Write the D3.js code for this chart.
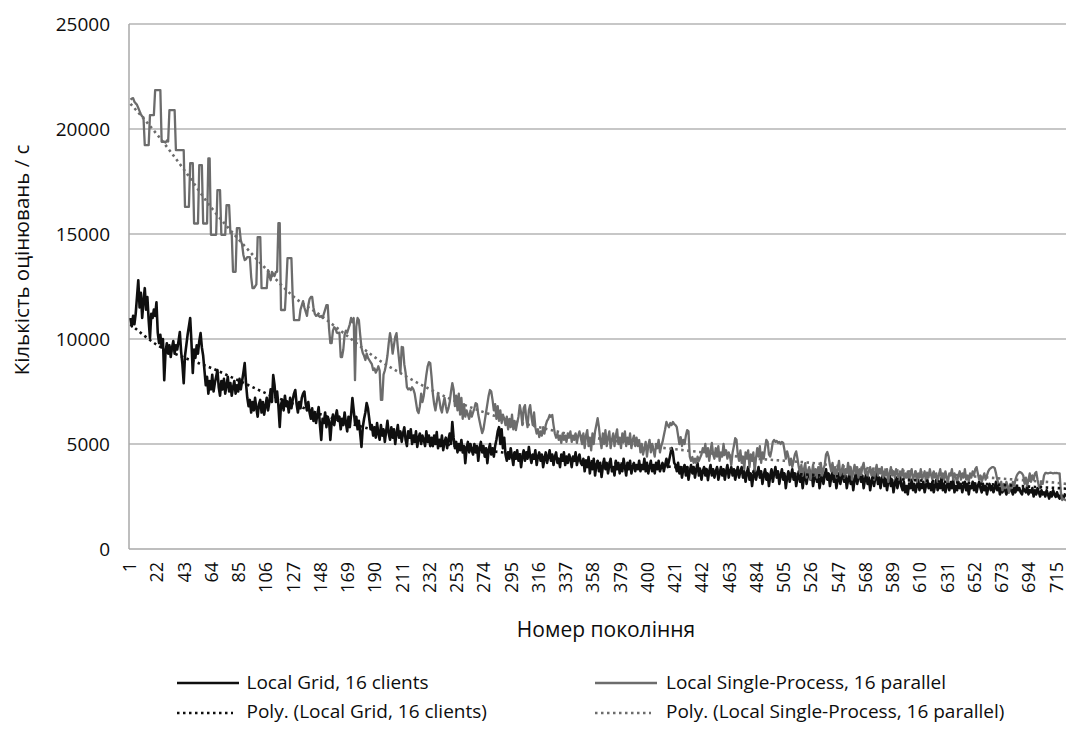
<!DOCTYPE html>
<html>
<head>
<meta charset="utf-8"/>
<title>Кількість оцінювань / с</title>
<script src="https://d3js.org/d3.v7.min.js"></script>
<style>
body{margin:0;background:#fff;}
text{font-family:"Open Sans",sans-serif;fill:#0d0d0d;}
</style>
</head>
<body>
<div id="chart"></div>
<script>
// y-axis ticks and x tick labels (generation numbers)
var yTicks = [0, 5000, 10000, 15000, 20000, 25000];
var tickGens = [1,22,43,64,85,106,127,148,169,190,211,232,253,274,295,316,337,358,379,400,421,442,463,484,505,526,547,568,589,610,631,652,673,694,715];

// Local Single-Process, 16 parallel (one value per generation, from 1)
var singleValues = [
21400,21450,21470,21300,21220,21150,21000,20850,20700,20600,20550,19230,19230,19230,19230,20660,20660,20660,20660,21850,
21850,21850,21850,21850,19390,19390,19400,19350,19450,19400,20900,20900,20900,20900,20900,18990,18990,18990,18990,18990,
18990,18990,16290,16290,16290,16290,18370,18370,18370,15500,15500,15500,15500,18280,18280,18280,15500,15500,15500,15500,
18600,18600,14960,14960,14960,14960,14960,17090,17090,17090,14960,14960,14960,14960,16370,16370,16370,15040,15040,13200,
13200,13200,15280,15280,15280,14700,14500,14000,13760,13800,13900,13900,13900,12950,12420,12420,12500,12600,14850,14850,
14850,12420,12420,12420,12420,12420,13280,13000,12800,13200,13100,13000,13200,13200,15520,15520,11380,11380,11380,11380,
12500,13850,13850,13850,13850,12000,10900,10900,10900,10900,10900,11400,11600,11800,11500,11300,11100,11600,11900,12000,
12000,11500,11200,11100,11150,11100,11050,11100,11000,11200,11400,11610,11610,10500,9800,9800,10400,10560,10500,10300,
10280,10300,9140,9140,9500,10200,10400,10300,10500,10700,11000,10800,11000,8040,10600,11000,10900,10200,9600,9330,
9200,9000,9300,9100,9000,8900,8800,8520,8600,8400,8520,8700,8500,7100,7100,8300,8500,8800,9200,9800,
10280,9900,9300,9700,10100,10280,9600,9000,8400,9620,9600,8800,8400,7710,7600,7650,7570,7700,7600,7400,
7000,6600,6470,6800,7400,7000,7300,7800,8300,8700,8900,8850,8200,7400,6900,6600,7000,7400,7100,6700,
6500,6900,7200,6800,6500,6700,7000,7500,7900,7600,6800,7300,6600,7400,6400,7200,6200,6900,6300,6600,
6400,6200,6600,6300,6500,6700,6950,6900,6400,6100,5800,5520,5700,6100,6500,6900,7300,7570,7500,7100,
6600,6900,6200,6800,6100,6600,6000,6400,6200,5900,6300,5700,6200,5800,6400,5700,6100,5660,6000,6300,
6850,6500,5900,6700,6850,6200,5800,6600,6850,6300,5900,6500,5800,5500,5700,5330,5600,5400,5800,5500,
5900,6100,6200,6380,6300,6380,5900,5500,5300,5500,5200,5400,5050,5500,5200,5400,5100,5500,5300,5600,
5100,5400,5200,5500,5050,5400,5600,5300,5000,5500,4800,5400,5660,4900,5300,4700,5500,5000,5600,5900,
6230,5800,5200,4800,5500,5000,5660,4900,5300,5600,4800,5200,5500,4900,5400,5700,5000,5300,4800,5500,
5100,5600,4900,5300,5000,5500,4800,5200,5400,4900,5300,4900,5190,4600,5000,4500,4800,5100,4400,4900,
5200,4600,5000,4700,4400,5000,4800,5200,4600,4900,5100,5400,5700,6050,5900,5800,6000,5900,6050,5950,
5900,5800,5400,5000,5330,4900,5200,5000,5400,5660,5600,4400,4200,4380,4100,4300,4090,4400,4200,4350,
4500,4800,4600,5000,4400,4800,4200,4700,5050,4500,4300,4800,4400,4900,4200,4600,4400,5000,4500,4700,
4300,4600,4400,4000,4600,4900,5280,5200,4500,4200,4700,4100,4400,3800,4600,4300,4700,3900,4500,4200,
4600,3700,4300,4800,4400,4900,4100,4600,4300,4800,5190,5100,4500,4400,4700,5100,5190,5100,5150,5050,
5100,5000,5100,5050,4700,4300,4650,4400,4000,4300,3900,4200,4500,4650,4300,3900,3600,4000,3500,3800,
4090,3400,3700,3900,3300,3600,4000,3500,3800,3400,3900,3600,4100,3500,3800,4000,4500,4620,4400,4000,
3700,4100,3600,3900,3400,3800,4200,3500,3700,4000,3400,3800,3600,4100,3500,3900,3300,3700,4000,3600,
3900,3400,3800,3500,3900,4100,3600,3800,3400,3700,3900,3500,3800,3300,3700,4000,3500,3800,3600,3900,
3400,3700,3500,3800,3200,3600,3900,3500,3700,3400,3800,3600,3300,3700,3500,3800,3300,3600,3400,3700,
3200,3600,3800,3300,3500,3700,3200,3600,3400,3800,3300,3500,3700,3200,3600,3400,3800,3500,3300,3700,
3400,3600,3200,3500,3800,3400,3600,3300,3700,3400,3200,3600,3500,3800,3300,3600,3400,3200,3500,3700,
3300,3600,3400,3800,3300,3500,3200,3600,3400,3700,3500,3800,3900,3600,3300,3500,3200,3400,3600,3300,
3500,3700,3800,3850,3900,3900,3850,3600,3300,3100,3000,3200,2800,3100,2900,3200,3000,2700,3100,2900,
3200,3000,3300,3500,3600,3670,3650,3600,3500,3100,3400,3000,3300,3600,3200,3500,3300,3600,3670,3300,
3000,2900,3200,3100,3500,3620,3620,3600,3620,3640,3620,3600,3620,3610,3620,3600,3600,2700,2330,2400,
2350,2300];

// Local Grid, 16 clients
var gridValues = [
11000,10600,11100,10700,11200,12000,12800,11500,12200,11000,11800,12420,11400,12000,10900,10040,11200,11000,11400,11100,
11750,10300,9800,10200,9600,10000,8040,9400,9800,9300,9700,9140,9600,9900,9300,9700,9500,9900,10330,9400,
8800,7900,9200,9700,10200,10600,11000,9800,8380,9500,9100,9700,9300,9900,10280,9600,9200,8500,7800,8200,
7400,8000,7600,8300,7500,7900,8200,8520,7700,7300,8000,7600,8100,7400,7800,8200,7500,7900,7300,7700,
8000,7400,7800,7500,8100,7600,8000,8400,8850,7900,7200,6800,7100,6500,7000,6600,7200,6700,6300,6900,
7100,6500,7000,6400,6800,7200,6600,7000,7600,7000,8280,7800,7000,7500,6800,5810,6900,7100,6600,7300,
6800,7000,6500,7200,6700,7100,7400,7570,6900,6500,7000,6700,7200,7400,7500,6900,6600,7000,6500,6200,
6700,6100,6500,6000,6400,6760,5900,5190,6200,6000,6500,5800,6300,6100,5190,6000,6400,5900,6300,6600,
6100,6300,5700,6200,5900,6500,6000,5600,6300,5800,6400,7190,6600,6000,6300,5700,6100,5500,4860,5800,
6200,6500,6950,6700,6200,5700,5900,5400,5800,5300,6000,5500,5200,5900,5400,5700,5100,5600,6100,5500,
5200,5800,5300,5700,5000,5500,5900,5300,5600,5100,5500,5800,5200,4900,5600,5300,5700,5000,5400,5100,
5600,4860,5300,5500,5000,5400,5200,4900,5600,5100,5400,4900,5300,4900,5400,5000,5570,4800,5200,4900,
5400,4710,5100,5300,4800,5200,5500,5000,6050,5300,4800,5100,4600,5000,4700,5190,4600,4900,4090,4800,
5100,4600,5000,4700,4500,5000,4600,4900,4200,4800,5100,4600,4900,4400,4800,4090,4700,5000,4500,4800,
4400,4900,5200,5600,5800,5000,5700,4800,5300,4500,4200,4600,4300,4800,4400,4000,4600,4300,4700,4200,
4500,3900,4400,4700,4200,4600,4300,4860,4400,4100,4500,4300,4700,4000,4400,4600,4200,4500,3900,4300,
4600,4100,4400,4700,4200,4500,4000,4400,4600,4100,4300,3900,4500,4200,4600,4000,4400,4100,4500,4300,
3900,4400,4200,4600,4000,4300,4500,4100,4000,4300,3700,4200,3900,4380,3600,4100,3800,4300,3500,4000,
4200,3700,4100,3430,3900,4300,3800,4100,3600,4000,4300,3700,3900,3500,4200,3800,4100,3600,4000,3700,
4300,3900,3500,4100,3800,4200,3600,3900,4100,3700,4000,3800,4200,3700,4000,3800,4300,3700,4100,3600,
3900,4200,3700,4000,3600,4100,3800,4200,3700,3900,4100,3700,4000,4300,3900,4200,4500,4810,4600,4100,
4000,3700,4100,3600,3900,3400,3800,4000,3500,3900,3300,3700,4000,3600,3900,3400,3800,4090,3500,3800,
3300,3700,3900,3500,3800,3280,3700,4000,3500,3800,3400,3700,3900,3300,3600,3900,3500,3800,3300,3700,
4000,3400,3700,3900,3500,3800,3300,3600,3900,3400,3700,3900,3400,3700,3200,3600,3900,3300,3600,3000,
3500,3800,3300,3600,3900,3400,3700,3100,3500,3800,3300,3600,3000,3500,3800,3200,3600,3900,3400,3700,
3100,3500,3800,3300,3600,2900,3400,3700,3200,3500,3800,3300,3600,3000,3400,3700,3200,3500,2900,3400,
3700,3100,3500,3800,3300,3600,3000,3400,3700,3200,3500,2900,3300,3600,3100,3500,3800,3300,3600,3000,
3400,3700,3200,3500,2900,3300,3600,3100,3400,3700,3200,3500,2900,3300,3600,3100,3400,2800,3300,3600,
3100,3400,3700,3200,3500,2900,3300,3600,3100,3400,2800,3200,3500,3000,3400,3700,3100,3400,2900,3300,
3600,3000,3300,2800,3200,3500,3000,3300,2700,3100,3400,2900,3200,3500,3000,2800,3200,2700,3000,2600,
3100,2900,3300,2800,3100,2700,3000,3300,2800,3100,2900,3200,2700,3000,3300,2900,3100,2800,3200,2700,
3000,3300,2800,3100,2900,3380,2800,3100,2700,3000,3200,2800,3100,2900,3300,2700,3000,2800,3200,2900,
3100,2700,3000,3200,2800,3100,2600,3000,2900,3200,2800,3100,2700,3000,3200,2900,2700,3100,2800,3000,
2600,2900,3100,2800,3000,2700,2900,3200,2800,3000,2600,2900,2700,3000,2800,2600,2900,2700,3000,2800,
2600,2900,2700,3000,2800,2900,2700,2600,2900,2800,2700,3000,2600,2800,2700,2900,2500,2800,2600,2900,
2700,2500,2800,2600,2700,2500,2800,2600,2400,2700,2500,2800,2600,2480,2700,2500,2400,2600,2500,2400,
2600,2500];

// polynomial trendlines, read at the tick generations
var trendGens = [1,22,43,64,85,106,127,148,169,190,211,232,253,274,295,316,337,358,379,400,421,442,463,484,505,526,547,568,589,610,631,652,673,694,715,722];
var gridTrend = [10700,9700,9100,8600,8000,7400,6900,6400,6000,5650,5350,5100,4900,4700,4550,4400,4280,4170,4070,3980,3900,3820,3740,3670,3600,3530,3460,3400,3330,3260,3190,3120,3050,2970,2900,2870];
var singleTrend = [21200,19700,18000,16200,14700,13300,12000,11100,10100,9100,8300,7600,7000,6500,6100,5800,5500,5300,5100,4900,4750,4600,4450,4300,4200,4100,3950,3850,3750,3650,3550,3450,3350,3250,3150,3100];

var width = 1066, height = 734;
var plotLeft = 129, plotRight = 1066, plotTop = 24, plotBottom = 549;
var gridColor = '#0f0f0f', singleColor = '#6c6c6c';

var svg = d3.select('#chart').append('svg')
	.attr('width', width)
	.attr('height', height);

var x = d3.scaleLinear().domain([1, 715]).range([130.5, 1057]);
var y = d3.scaleLinear().domain([0, 25000]).range([plotBottom, plotTop]);

// horizontal gridlines
svg.append('g').selectAll('line')
	.data(yTicks.filter(function(d){ return d > 0; }))
	.enter().append('line')
	.attr('x1', plotLeft).attr('x2', plotRight)
	.attr('y1', function(d){ return y(d); })
	.attr('y2', function(d){ return y(d); })
	.attr('stroke', '#b4b4b4')
	.attr('stroke-width', 1.5);

// axes
var yAxis = d3.axisLeft(y).tickValues(yTicks).tickFormat(d3.format('d')).tickSize(0).tickPadding(19);
svg.append('g')
	.attr('transform', 'translate(' + plotLeft + ',0)')
	.call(yAxis)
	.call(function(g){ g.select('.domain').remove(); })
	.selectAll('text')
	.style('font-size', '19px')
	.style('font-family', '"Open Sans", sans-serif')
	.attr('fill', '#0d0d0d');

var xAxis = d3.axisBottom(x).tickValues(tickGens).tickFormat(d3.format('d')).tickSize(0);
svg.append('g')
	.attr('transform', 'translate(0,' + plotBottom + ')')
	.call(xAxis)
	.call(function(g){ g.select('.domain').remove(); })
	.selectAll('text')
	.attr('transform', 'rotate(-90)')
	.attr('text-anchor', 'end')
	.attr('x', -13)
	.attr('y', 0)
	.attr('dy', '0.28em')
	.style('font-size', '18px')
	.style('font-family', '"Open Sans", sans-serif')
	.attr('fill', '#0d0d0d');

svg.append('line')
	.attr('x1', plotLeft).attr('x2', plotLeft).attr('y1', plotTop).attr('y2', plotBottom)
	.attr('stroke', '#a8a8a8').attr('stroke-width', 1.5);
svg.append('line')
	.attr('x1', plotLeft).attr('x2', plotRight).attr('y1', plotBottom).attr('y2', plotBottom)
	.attr('stroke', '#a8a8a8').attr('stroke-width', 1.5);

// plot clip
svg.append('clipPath').attr('id', 'plot')
	.append('rect').attr('x', plotLeft).attr('y', 0).attr('width', plotRight - plotLeft).attr('height', plotBottom);

var plot = svg.append('g').attr('clip-path', 'url(#plot)');

var seriesLine = d3.line()
	.x(function(d, i){ return x(i + 1); })
	.y(function(d){ return y(d); });

plot.append('path').datum(gridValues)
	.attr('d', seriesLine)
	.attr('fill', 'none')
	.attr('stroke', gridColor)
	.attr('stroke-width', 2.6)
	.attr('stroke-linejoin', 'round');

plot.append('path').datum(singleValues)
	.attr('d', seriesLine)
	.attr('fill', 'none')
	.attr('stroke', singleColor)
	.attr('stroke-width', 2.3)
	.attr('stroke-linejoin', 'round');

var trendLine = d3.line()
	.curve(d3.curveMonotoneX)
	.x(function(d, i){ return x(trendGens[i]); })
	.y(function(d){ return y(d); });

plot.append('path').datum(gridTrend)
	.attr('d', trendLine)
	.attr('fill', 'none')
	.attr('stroke', gridColor)
	.attr('stroke-width', 2.6)
	.attr('stroke-dasharray', '2.5 3.5');

plot.append('path').datum(singleTrend)
	.attr('d', trendLine)
	.attr('fill', 'none')
	.attr('stroke', singleColor)
	.attr('stroke-width', 2.6)
	.attr('stroke-dasharray', '2.5 3.5');

// axis titles
svg.append('text')
	.attr('transform', 'translate(22,' + 260 + ') rotate(-90)')
	.attr('text-anchor', 'middle')
	.attr('dy', '0.35em')
	.style('font-size', '20.5px')
	.text('Кількість оцінювань / с');

svg.append('text')
	.attr('x', 606).attr('y', 637)
	.attr('text-anchor', 'middle')
	.style('font-size', '21px')
	.text('Номер покоління');

// legend
var legend = [
	{label: 'Local Grid, 16 clients', color: gridColor, dash: null, x: 177, y: 683, ty: 689},
	{label: 'Local Single-Process, 16 parallel', color: singleColor, dash: null, x: 595, y: 683, ty: 689},
	{label: 'Poly. (Local Grid, 16 clients)', color: gridColor, dash: '2.5 3.5', x: 177, y: 713, ty: 718},
	{label: 'Poly. (Local Single-Process, 16 parallel)', color: singleColor, dash: '2.5 3.5', x: 595, y: 713, ty: 718}
];

var items = svg.append('g').selectAll('g').data(legend).enter().append('g');

items.append('line')
	.attr('x1', function(d){ return d.x; })
	.attr('x2', function(d){ return d.x + (d.dash ? 56 : 62); })
	.attr('y1', function(d){ return d.y; })
	.attr('y2', function(d){ return d.y; })
	.attr('stroke', function(d){ return d.color; })
	.attr('stroke-width', function(d){ return d.dash ? 2.6 : 2.3; })
	.attr('stroke-dasharray', function(d){ return d.dash; });

items.append('text')
	.attr('x', function(d){ return d.x < 300 ? d.x + 69.5 : d.x + 71; })
	.attr('y', function(d){ return d.ty; })
	.style('font-size', '19px')
	.text(function(d){ return d.label; });
</script>
</body>
</html>
